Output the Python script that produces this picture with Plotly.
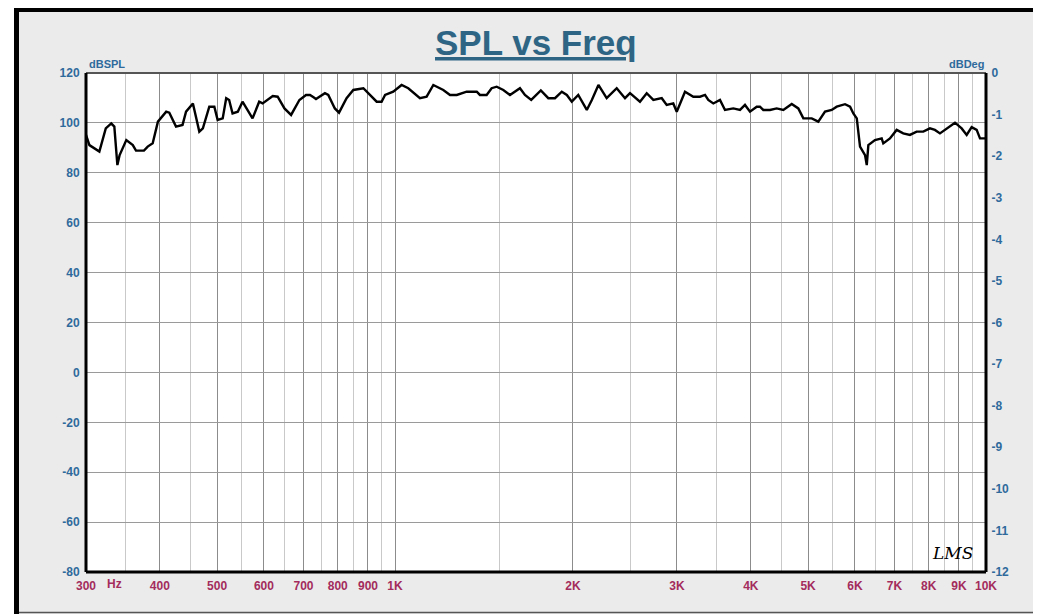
import plotly.graph_objects as go

freq_hz = [300, 304, 316, 324, 331, 335, 339, 342, 351, 360, 364.5, 376, 381.5, 389, 397,
           410, 415, 426, 437, 443, 455, 466.5, 473, 485, 494.6, 501, 511, 518, 524, 531,
           542, 552, 574, 589, 597, 609, 621, 633, 650, 667, 689, 707, 718, 728, 735,
           761, 771, 791, 804, 828, 850, 884, 907, 931, 949, 962, 993, 1026, 1053, 1102,
           1131, 1161, 1207, 1239, 1272, 1322, 1375, 1392, 1429, 1457, 1486, 1525, 1565,
           1627, 1659, 1700, 1765, 1817, 1865, 1915, 1953, 1991, 2042, 2111, 2153, 2209,
           2281, 2372, 2450, 2498, 2597, 2666, 2736, 2827, 2882, 2957, 2997, 3095, 3197,
           3281, 3346, 3389, 3456, 3547, 3617, 3736, 3835, 3910, 3987, 4093, 4145, 4199,
           4310, 4424, 4540, 4691, 4813, 4908, 5071, 5203, 5341, 5482, 5590, 5774, 5888,
           5964, 6044, 6121, 6242, 6284, 6323, 6488, 6660, 6702, 6878, 7060, 7244, 7435,
           7631, 7831, 8038, 8195, 8358, 8580, 8861, 9095, 9275, 9457, 9643, 9769, 10000]
spl_db = [95.2, 91.1, 88.5, 97.8, 99.8, 98.5, 83.1, 87.1, 93.1, 91.1, 88.9, 88.9, 90.5, 91.8, 100.5,
          104.5, 104.1, 98.5, 99.2, 104.5, 107.8, 96.5, 97.8, 106.5, 106.5, 101.2, 101.8, 109.9, 109.2, 103.8,
          104.5, 108.5, 101.8, 108.5, 107.8, 109.2, 110.8, 110.5, 105.8, 103.2, 109.2, 111.2, 111.2, 110.3, 109.6,
          111.9, 111.2, 105.8, 104.1, 109.9, 113.2, 113.9, 111.2, 108.5, 108.5, 111.2, 112.5, 115.2, 113.9, 109.9,
          110.5, 115.2, 113.2, 111.2, 111.2, 112.5, 112.5, 111.2, 111.2, 113.9, 114.5, 113.2, 111.2,
          113.9, 111.2, 109.2, 113.0, 109.9, 109.9, 112.5, 111.2, 108.5, 111.2, 105.2, 109.2, 115.2,
          109.9, 113.9, 109.9, 111.9, 108.5, 111.9, 109.2, 109.9, 107.2, 107.8, 104.5, 112.5, 110.5,
          110.5, 111.2, 109.2, 107.8, 109.2, 105.2, 105.8, 105.2, 107.2, 104.5, 106.5, 106.5, 105.2,
          105.2, 105.8, 105.2, 107.6, 105.8, 101.8, 101.8, 100.5, 104.5, 105.2, 106.5, 107.5, 106.5,
          103.8, 101.8, 90.5, 87.1, 83.1, 91.1, 93.1, 93.8, 91.8, 93.8, 97.2, 95.8, 95.2,
          96.5, 96.5, 97.8, 97.2, 95.8, 97.8, 100.1, 97.8, 95.2, 98.3, 97.2, 93.8, 93.8]

x_tickvals = [300, 400, 500, 600, 700, 800, 900, 1000, 2000, 3000, 4000, 5000, 6000, 7000, 8000, 9000, 10000]
x_ticktext = ["300", "400", "500", "600", "700", "800", "900", "1K", "2K", "3K", "4K", "5K", "6K", "7K", "8K", "9K", "10K"]
x_minor = [350, 450, 550, 650, 750, 850, 950, 1500, 2500, 3500, 4500, 5500, 6500, 7500, 8500, 9500]
y_left_ticks = [120, 100, 80, 60, 40, 20, 0, -20, -40, -60, -80]
y_right_ticks = [0, -1, -2, -3, -4, -5, -6, -7, -8, -9, -10, -11, -12]

OFF = 8  # browser body margin
W, H = 1041, 614 - OFF
L, R, T, B = 86 - OFF, 986 - OFF, 73 - OFF, 572 - OFF
BLUE = "#2f6a9c"
RED = "#a32c5c"
FONT = "Liberation Sans, Arial, sans-serif"


def px(xp):
    return (xp - OFF - L) / (R - L)


def py(yp):
    return (B - (yp - OFF)) / (B - T)


def bold(vals):
    return ["<b>%s</b>" % v for v in vals]


fig = go.Figure()
fig.add_trace(go.Scatter(x=freq_hz, y=spl_db, mode="lines",
                         line=dict(color="black", width=2.4), showlegend=False, hoverinfo="x+y"))
fig.add_trace(go.Scatter(x=[], y=[], yaxis="y2", showlegend=False))

fig.update_layout(
    width=W, height=H,
    margin=dict(l=L, r=W - R, t=T, b=H - B, pad=0),
    paper_bgcolor="#ebebeb",
    plot_bgcolor="white",
    showlegend=False,
    xaxis=dict(type="log", range=[2.4771, 4.0], tickmode="array", tickvals=x_tickvals,
               ticktext=bold(x_ticktext), showgrid=True, gridcolor="#8c8c8c", gridwidth=1.3,
               ticks="outside", ticklen=3, tickcolor="rgba(0,0,0,0)",
               tickfont=dict(family=FONT, size=12, color=RED),
               minor=dict(tickvals=x_minor, showgrid=True, gridcolor="#c9c9c9", gridwidth=1, ticks=""),
               zeroline=False, showline=False),
    yaxis=dict(range=[-80, 120], tickmode="array", tickvals=y_left_ticks,
               ticktext=bold(y_left_ticks),
               showgrid=True, gridcolor="#9a9a9a", gridwidth=1.3, zeroline=False,
               ticks="outside", ticklen=3, tickcolor="rgba(0,0,0,0)",
               tickfont=dict(family=FONT, size=12, color=BLUE), showline=False),
    yaxis2=dict(range=[-12, 0], overlaying="y", side="right", tickmode="array",
                tickvals=y_right_ticks, ticktext=bold(y_right_ticks), showgrid=False, zeroline=False,
                ticks="outside", ticklen=2, tickcolor="rgba(0,0,0,0)",
                tickfont=dict(family=FONT, size=12, color=BLUE), showline=False),
)

shapes = []
# white outer strips
shapes.append(dict(type="rect", xref="paper", yref="paper", x0=px(-20), x1=px(1100), y0=py(-20), y1=py(7),
                   fillcolor="white", line=dict(width=0), layer="below"))
shapes.append(dict(type="rect", xref="paper", yref="paper", x0=px(-20), x1=px(14), y0=py(-20), y1=py(640),
                   fillcolor="white", line=dict(width=0), layer="below"))
# black frame top and left
shapes.append(dict(type="rect", xref="paper", yref="paper", x0=px(14), x1=px(1100), y0=py(7), y1=py(12),
                   fillcolor="black", line=dict(width=0)))
shapes.append(dict(type="rect", xref="paper", yref="paper", x0=px(14), x1=px(19), y0=py(7), y1=py(640),
                   fillcolor="black", line=dict(width=0)))
# thin bottom line
shapes.append(dict(type="line", xref="paper", yref="paper", x0=px(19), x1=px(1100), y0=py(612.5), y1=py(612.5),
                   line=dict(color="#555555", width=1.5)))
# plot border
shapes.append(dict(type="line", xref="paper", yref="paper", x0=0, x1=1, y0=1, y1=1,
                   line=dict(color="#555555", width=2)))
shapes.append(dict(type="line", xref="paper", yref="paper", x0=0, x1=0, y0=0, y1=1,
                   line=dict(color="black", width=3)))
shapes.append(dict(type="line", xref="paper", yref="paper", x0=1, x1=1, y0=0, y1=1,
                   line=dict(color="black", width=3)))
shapes.append(dict(type="line", xref="paper", yref="paper", x0=0, x1=1, y0=0, y1=0,
                   line=dict(color="black", width=3)))
fig.update_layout(shapes=shapes)

annotations = [
    dict(text="<b><u>SPL vs Freq</u></b>", xref="paper", yref="paper", x=px(536), y=py(42),
         xanchor="center", yanchor="middle", showarrow=False,
         font=dict(family=FONT, size=35, color="#2e6585")),
    dict(text="<b>dBSPL</b>", xref="paper", yref="paper", x=px(87), y=py(64), xanchor="left", yanchor="middle",
         showarrow=False, font=dict(family=FONT, size=11, color=BLUE)),
    dict(text="<b>dBDeg</b>", xref="paper", yref="paper", x=px(986), y=py(64), xanchor="right", yanchor="middle",
         showarrow=False, font=dict(family=FONT, size=11, color=BLUE)),
    dict(text="<b>Hz</b>", xref="paper", yref="paper", x=px(105), y=py(584), xanchor="left", yanchor="middle",
         showarrow=False, font=dict(family=FONT, size=12, color=RED)),
    dict(text="<i>LMS</i>", xref="paper", yref="paper", x=px(952), y=py(553), xanchor="center", yanchor="middle",
         showarrow=False, font=dict(family="DejaVu Serif, serif", size=17, color="black")),
]
fig.update_layout(annotations=annotations)

fig.write_html("out.html")
